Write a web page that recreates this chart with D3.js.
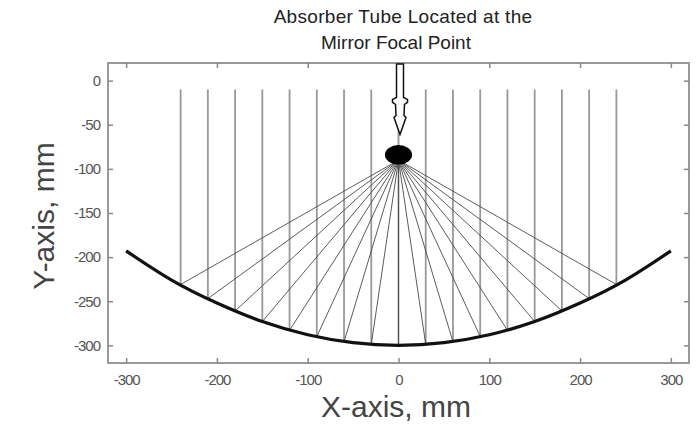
<!DOCTYPE html>
<html>
<head>
<meta charset="utf-8">
<script src="https://cdn.jsdelivr.net/npm/d3@7"></script>
<style>
  body { margin: 0; background: #fff; }
  text { font-family: "Liberation Sans", Arial, sans-serif; }
</style>
</head>
<body>
<svg id="chart"></svg>
<script>
var width = 698;
var height = 429;

// mirror profile
var mirrorX = [-300, -250, -200, -150, -100, -50, 0, 50, 100, 150, 200, 250, 300];
var mirrorY = [-193, -226, -252, -273, -288, -297, -300, -297, -288, -273, -252, -226, -193];

// incoming rays and where they hit the mirror
var rayX    = [-240, -210, -180, -150, -120, -90, -60, -30, 0, 30, 60, 90, 120, 150, 180, 210, 240];
var rayHitY = [-231, -247, -261, -273, -283, -290, -296, -299, -300, -299, -296, -290, -283, -273, -261, -247, -231];
var rayTopY = -10;

var focus = [0, -90];
var tube = [0, -84];

var xTicks = [-300, -200, -100, 0, 100, 200, 300];
var yTicks = [0, -50, -100, -150, -200, -250, -300];

var pLeft = 108, pRight = 689, pTop = 63, pBottom = 363;

var xScale = d3.scaleLinear().domain([-320, 320]).range([pLeft, pRight]);
var yScale = d3.scaleLinear().domain([-320, 20]).range([pBottom, pTop]);

var svg = d3.select("#chart")
            .attr("width", width)
            .attr("height", height);

// incoming vertical rays
svg.selectAll(".ray")
   .data(rayX)
   .enter()
   .append("line")
     .attr("x1", d => xScale(d))
     .attr("x2", d => xScale(d))
     .attr("y1", yScale(rayTopY))
     .attr("y2", (d, i) => yScale(rayHitY[i]))
     .attr("stroke", "#999")
     .attr("stroke-width", 1.8);

// reflected rays to focal point
svg.selectAll(".refl")
   .data(rayX)
   .enter()
   .append("line")
     .attr("x1", d => xScale(d))
     .attr("y1", (d, i) => yScale(rayHitY[i]))
     .attr("x2", xScale(focus[0]))
     .attr("y2", yScale(focus[1]))
     .attr("stroke", "#4a4a4a")
     .attr("stroke-width", 0.9);

// mirror
var line = d3.line()
             .x(d => xScale(d[0]))
             .y(d => yScale(d[1]))
             .curve(d3.curveNatural);

svg.append("path")
   .attr("d", line(mirrorX.map((x, i) => [x, mirrorY[i]])))
   .attr("fill", "none")
   .attr("stroke", "#111")
   .attr("stroke-width", 3.2);

// absorber tube
svg.append("ellipse")
   .attr("cx", xScale(tube[0]))
   .attr("cy", yScale(tube[1]))
   .attr("rx", xScale(15) - xScale(0))
   .attr("ry", yScale(0) - yScale(11))
   .attr("fill", "#000");

// axes box
svg.append("rect")
   .attr("x", pLeft)
   .attr("y", pTop)
   .attr("width", pRight - pLeft)
   .attr("height", pBottom - pTop)
   .attr("fill", "none")
   .attr("stroke", "#999")
   .attr("stroke-width", 2);

var fmt = d => String(d);
var xAxis = d3.axisBottom(xScale).tickValues(xTicks).tickSize(-5).tickSizeOuter(0).tickPadding(11).tickFormat(fmt);
var yAxis = d3.axisLeft(yScale).tickValues(yTicks).tickSize(-5).tickSizeOuter(0).tickPadding(8).tickFormat(fmt);

var gx = svg.append("g").attr("transform", "translate(0," + pBottom + ")").call(xAxis);
var gy = svg.append("g").attr("transform", "translate(" + pLeft + ",0)").call(yAxis);
var gxt = svg.append("g").attr("transform", "translate(0," + pTop + ")")
             .call(d3.axisTop(xScale).tickValues(xTicks).tickSize(-5).tickSizeOuter(0).tickFormat(""));
var gyr = svg.append("g").attr("transform", "translate(" + pRight + ",0)")
             .call(d3.axisRight(yScale).tickValues(yTicks).tickSize(-5).tickSizeOuter(0).tickFormat(""));

[gx, gy, gxt, gyr].forEach(g => {
  g.select(".domain").remove();
  g.selectAll(".tick line").attr("stroke", "#888").attr("stroke-width", 1.5);
  g.selectAll(".tick text")
   .attr("fill", "#555")
   .style("font-size", "15px")
   .style("letter-spacing", "-1px");
});

// arrow pointing to the tube
var ax = xScale(0) + 1.5;
var aTop = yScale(20) + 1, aHead = yScale(-19), aTip = yScale(-61);
var arrow = [
  [ax - 3.5, aTop], [ax - 3.5, aHead], [ax - 7.5, aHead + 2], [ax - 7.5, aHead + 5],
  [ax - 4.5, aHead + 7], [ax - 4, aHead + 18], [ax - 6, aHead + 20], [ax, aTip],
  [ax + 6, aHead + 20], [ax + 4, aHead + 18], [ax + 4.5, aHead + 7],
  [ax + 7.5, aHead + 5], [ax + 7.5, aHead + 2], [ax + 3.5, aHead], [ax + 3.5, aTop]
];
svg.append("path")
   .attr("d", d3.line()(arrow) + "Z")
   .attr("fill", "#fff")
   .attr("stroke", "#111")
   .attr("stroke-width", 1.5);

// annotation
svg.append("text")
   .attr("x", 403).attr("y", 23)
   .attr("text-anchor", "middle")
   .attr("fill", "#222")
   .style("font-size", "19px")
   .style("letter-spacing", "0.3px")
   .text("Absorber Tube Located at the");
svg.append("text")
   .attr("x", 396).attr("y", 49)
   .attr("text-anchor", "middle")
   .attr("fill", "#222")
   .style("font-size", "19px")
   .text("Mirror Focal Point");

// axis labels
svg.append("text")
   .attr("x", 396).attr("y", 417)
   .attr("text-anchor", "middle")
   .attr("fill", "#444")
   .style("font-size", "30px")
   .text("X-axis, mm");

svg.append("text")
   .attr("transform", "translate(54,216) rotate(-90)")
   .attr("text-anchor", "middle")
   .attr("fill", "#444")
   .style("font-size", "30px")
   .text("Y-axis, mm");
</script>
</body>
</html>
